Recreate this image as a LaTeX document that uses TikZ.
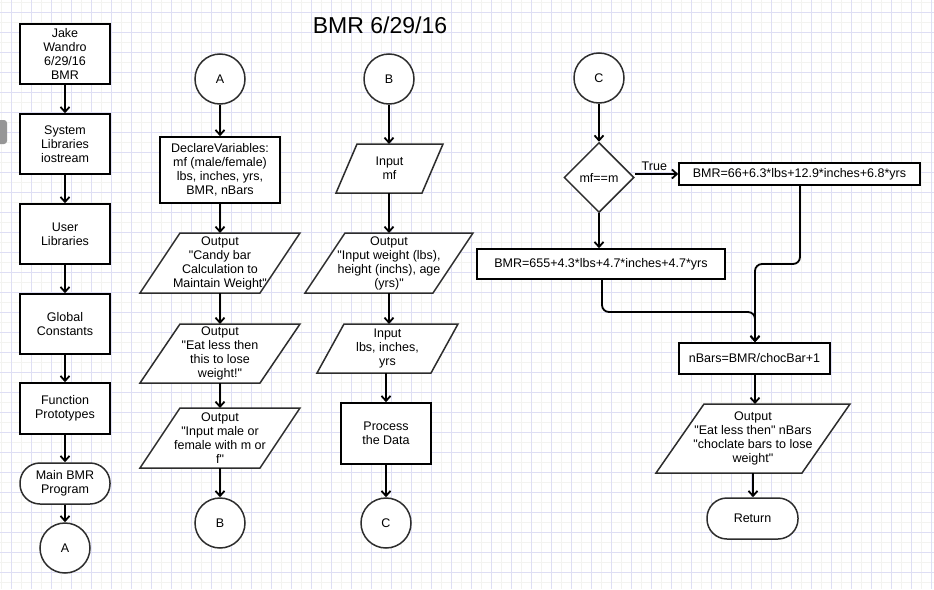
\documentclass[tikz,border=0pt]{standalone}
\usepackage{fontspec}
\newfontfamily\arialf{Liberation Sans}
\usetikzlibrary{arrows.meta,shapes.geometric}
\pgfdeclarelayer{grid}
\pgfdeclarelayer{bg}
\pgfsetlayers{grid,bg,main}
\definecolor{gridmaj}{RGB}{222,222,244}
\definecolor{gridmin}{RGB}{243,243,240}
\definecolor{edgegray}{RGB}{45,45,45}
\definecolor{tabgray}{RGB}{150,150,150}
\tikzset{
  base/.style={font=\arialf\fontsize{12.5}{14}\selectfont, align=center, inner sep=1pt},
  rbox/.style={base, draw=black, line width=1.5pt, fill=white},
  term/.style={base, draw=edgegray, line width=1.5pt, fill=white, rounded corners=20pt},
  conn/.style={base, circle, draw=edgegray, line width=1.5pt, fill=white, minimum size=50pt},
  decis/.style={base, diamond, draw=edgegray, line width=1.5pt, fill=white, minimum width=70pt, minimum height=70pt, inner sep=0pt},
  ptext/.style={base, outer sep=0pt, inner sep=0pt},
  pline/.style={draw=edgegray, line width=1.5pt, fill=white, line join=miter},
  arr/.style={draw=black, line width=1.8pt, -{Straight Barb[length=5pt,width=9pt]}},
}
\newcommand\myparallel[2]{%
  \begin{pgfonlayer}{bg}
  \path[pline] ([xshift=#2pt]#1.north west) -- ([xshift=#2pt]#1.north east)
     -- ([xshift=-#2pt]#1.south east) -- ([xshift=-#2pt]#1.south west) -- cycle;
  \end{pgfonlayer}}
\begin{document}
\begin{tikzpicture}[x=1pt,y=-1pt]
\useasboundingbox (0,0) rectangle (934,589);
% background grid
\begin{pgfonlayer}{grid}
  \fill[white] (0,0) rectangle (934,589);
  \foreach \x in {1,21,...,921} \draw[gridmin, line width=0.5pt] (\x,0) -- (\x,589);
  \foreach \y in {2,22,...,582} \draw[gridmin, line width=0.5pt] (0,\y) -- (934,\y);
  \foreach \x in {11,31,...,931} \draw[gridmaj, line width=0.6pt] (\x,0) -- (\x,589);
  \foreach \y in {12,32,...,572} \draw[gridmaj, line width=0.6pt] (0,\y) -- (934,\y);
  \fill[tabgray, rounded corners=3pt] (-6,120) rectangle (7,144);
\end{pgfonlayer}

% title
\node[font=\arialf\fontsize{23}{27}\selectfont, inner sep=0pt] (title) at (380,25) {BMR 6/29/16};

% column 1
\node[rbox, minimum width=90pt, minimum height=60pt] (j1) at (65,54) {Jake\\Wandro\\6/29/16\\BMR};
\node[rbox, minimum width=90pt, minimum height=60pt] (j2) at (65,144) {System\\Libraries\\iostream};
\node[rbox, minimum width=90pt, minimum height=60pt] (j3) at (65,234) {User\\Libraries};
\node[rbox, minimum width=90pt, minimum height=60pt] (j4) at (65,324) {Global\\Constants};
\node[rbox, minimum width=90pt, minimum height=51pt] (j5) at (65,408.5) {Function\\Prototypes};
\node[term, minimum width=90pt, minimum height=41pt] (j6) at (65,483.5) {Main BMR\\Program};
\node[conn] (j7) at (65,548) {A};
\draw[arr] (j1) -- (j2);
\draw[arr] (j2) -- (j3);
\draw[arr] (j3) -- (j4);
\draw[arr] (j4) -- (j5);
\draw[arr] (j5) -- (j6);
\draw[arr] (j6) -- (j7);

% column 2
\node[conn] (a1) at (220,79) {A};
\node[rbox, minimum width=120pt, minimum height=66pt] (a2) at (220,170) {DeclareVariables:\\mf (male/female)\\lbs, inches, yrs,\\BMR, nBars};
\node[ptext, minimum width=120pt, minimum height=60pt] (a3) at (220,263) {Output\\"Candy bar\\Calculation to\\Maintain Weight"};
\myparallel{a3}{20}
\node[ptext, minimum width=120pt, minimum height=59pt] (a4) at (220,353.5) {Output\\"Eat less then\\this to lose\\weight!"};
\myparallel{a4}{20}
\node[ptext, minimum width=120pt, minimum height=60pt] (a5) at (220,438) {Output\\"Input male or\\female with m or\\f"};
\myparallel{a5}{20}
\node[conn] (a6) at (220,523) {B};
\draw[arr] (a1) -- (a2);
\draw[arr] (a2) -- (a3);
\draw[arr] (a3) -- (a4);
\draw[arr] (a4) -- (a5);
\draw[arr] (a5) -- (a6);

% column 3
\node[conn] (b1) at (389,79) {B};
\node[ptext, minimum width=86pt, minimum height=49pt] (b2) at (389.5,168.5) {Input\\mf};
\myparallel{b2}{10.5}
\node[ptext, minimum width=128pt, minimum height=60pt] (b3) at (389,263) {Output\\"Input weight (lbs),\\height (inchs), age\\(yrs)"};
\myparallel{b3}{20}
\node[ptext, minimum width=114pt, minimum height=49pt] (b4) at (387.5,348.5) {Input\\lbs, inches,\\yrs};
\myparallel{b4}{13.5}
\node[rbox, minimum width=90pt, minimum height=61pt] (b5) at (386,433.5) {Process\\the Data};
\node[conn] (b6) at (386,523) {C};
\draw[arr] (b1) -- (b1 |- b2.north);
\draw[arr] (b1 |- b2.south) -- (b1 |- b3.north);
\draw[arr] (b3.south) -- (b3.south |- b4.north);
\draw[arr] (b5.north |- b4.south) -- (b5.north);
\draw[arr] (b5) -- (b6);

% column 4
\node[conn] (c1) at (599,78) {C};
\node[decis] (c2) at (599,177.5) {mf==m};
\node[rbox, minimum width=241pt, minimum height=22pt] (c3) at (799.5,174) {BMR=66+6.3*lbs+12.9*inches+6.8*yrs};
\node[rbox, minimum width=248pt, minimum height=30pt] (c4) at (601,264) {BMR=655+4.3*lbs+4.7*inches+4.7*yrs};
\node[rbox, minimum width=151pt, minimum height=31pt] (c5) at (754.5,358.5) {nBars=BMR/chocBar+1};
\node[ptext, minimum width=146pt, minimum height=69pt] (c6) at (753,438.5) {Output\\"Eat less then" nBars\\"choclate bars to lose\\weight"};
\myparallel{c6}{24}
\node[term, minimum width=91pt, minimum height=41pt] (c7) at (752.5,518.5) {Return};
\coordinate (k1) at (800,264);
\coordinate (k2) at (755,264);
\coordinate (k3) at (602,312);
\coordinate (k4) at (755,312);
\draw[arr] (c1) -- (c2);
\draw[arr] (c2.east |- c3.west) -- node[base, above=1pt, pos=0.45] (tlabel) {True} (c3.west);
\draw[arr] (c2) -- (c2 |- c4.north);
\draw[arr, rounded corners=7pt] (k1 |- c3.south) -- (k1) -- (k2) -- (k2 |- c5.north);
\draw[arr, rounded corners=7pt] (k3 |- c4.south) -- (k3) -- (k4) -- (k4 |- c5.north);
\draw[arr] (c5.south -| k4) -- (k4 |- c6.north);
\draw[arr] (c6.south) -- (c6.south |- c7.north);
\end{tikzpicture}
\end{document}
